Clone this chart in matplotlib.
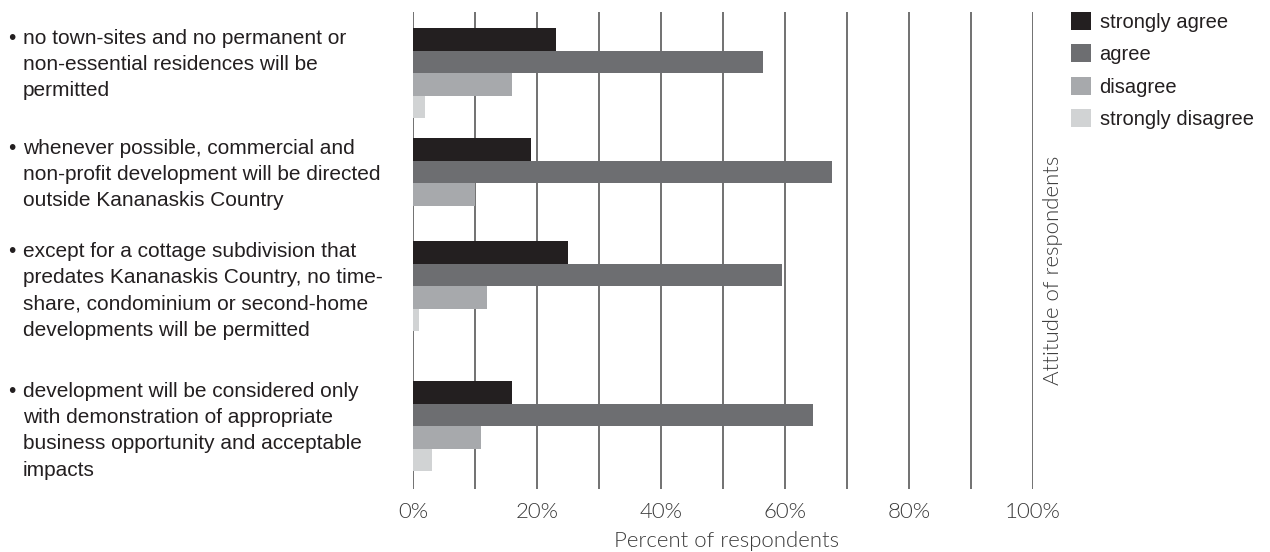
import matplotlib
matplotlib.use("Agg")
import matplotlib.pyplot as plt
from matplotlib.patches import Patch

# --- data ---
statements = [
    "no town-sites and no permanent or\nnon-essential residences will be\npermitted",
    "whenever possible, commercial and\nnon-profit development will be directed\noutside Kananaskis Country",
    "except for a cottage subdivision that\npredates Kananaskis Country, no time-\nshare, condominium or second-home\ndevelopments will be permitted",
    "development will be considered only\nwith demonstration of appropriate\nbusiness opportunity and acceptable\nimpacts",
]
attitudes = ["strongly agree", "agree", "disagree", "strongly disagree"]
strongly_agree = [23, 19, 25, 16]
agree = [56.5, 67.5, 59.5, 64.5]
disagree = [16, 10, 12, 11]
strongly_disagree = [2, 0, 1, 3]
x_ticks = [0, 20, 40, 60, 80, 100]

# --- layout (figure pixels, y measured from the top) ---
W, H = 1270, 552
group_top = [28, 138, 241, 381]
bar_h = 22.5
colors = ["#231f20", "#6d6e71", "#a7a9ac", "#d1d3d4"]
text_color = "#231f20"
label_font = ["Liberation Sans Narrow", "Liberation Sans", "DejaVu Sans"]
light_font = ["Lato", "Open Sans", "DejaVu Sans"]
light_kw = dict(fontsize=16, color="#3a3a3a", family=light_font, fontweight=300)

fig = plt.figure(figsize=(W / 100, H / 100), dpi=100)
ax = fig.add_axes([413 / W, 1 - 489 / H, (1033 - 413) / W, (489 - 12) / H])
ax.set_xlim(0, 100)
ax.set_ylim(489, 12)

series = [strongly_agree, agree, disagree, strongly_disagree]
for i, (vals, col) in enumerate(zip(series, colors)):
    ys = [t + bar_h * (i + 0.5) for t in group_top]
    ax.barh(ys, vals, height=bar_h, color=col, linewidth=0, zorder=2)

for x in range(0, 101, 10):
    ax.axvline(x, color="#4a4a4a", lw=1.1, zorder=1)

for s in ax.spines.values():
    s.set_visible(False)
ax.set_yticks([])
ax.set_xticks(x_ticks)
ax.set_xticklabels([f"{t}%" for t in x_ticks], **light_kw)
ax.tick_params(axis="x", length=0, pad=9)

fig.text(726 / W, 1 - 541 / H, "Percent of respondents", ha="center", va="center", **light_kw)
fig.text(1053 / W, 1 - 270 / H, "Attitude of respondents", ha="center", va="center",
         rotation=90, **light_kw)

# statement labels with bullets
for stmt, top in zip(statements, group_top):
    fig.text(8 / W, 1 - (top + 1) / H, "\u2022", ha="left", va="top",
             fontsize=15, color=text_color, family=label_font)
    fig.text(23 / W, 1 - (top + 1) / H, stmt, ha="left", va="top",
             fontsize=15, color=text_color, family=label_font, linespacing=1.48)

handles = [Patch(facecolor=c, edgecolor="none") for c in colors]
fig.legend(handles, attitudes, loc="upper left", bbox_to_anchor=(1071 / W, 1 - 12 / H),
           frameon=False, handlelength=1.0, handleheight=1.0,
           handletextpad=0.42, labelspacing=0.62, borderpad=0, borderaxespad=0,
           prop={"family": label_font, "size": 14.5}, labelcolor=text_color)

fig.savefig("out.png", dpi=100)
